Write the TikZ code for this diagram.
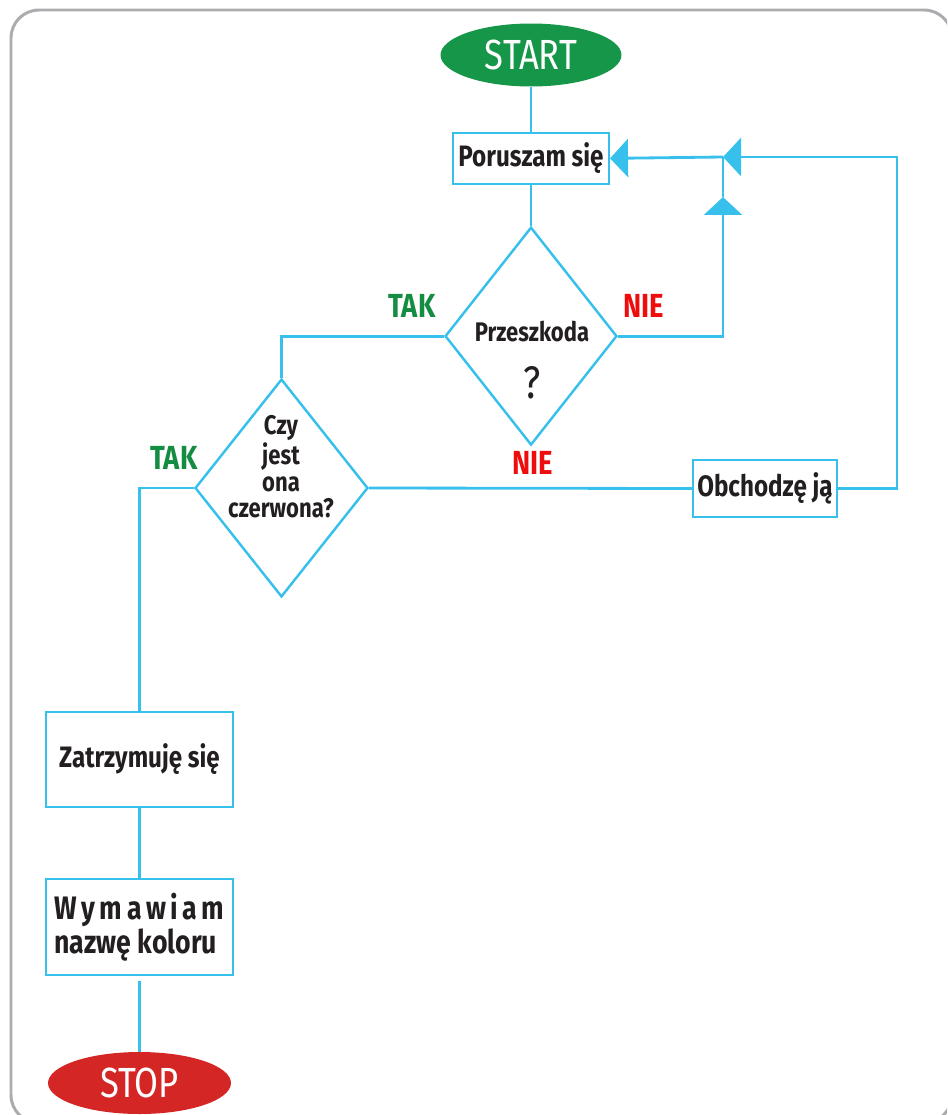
\documentclass[tikz,border=0pt]{standalone}
\usepackage{fontspec}
\setmainfont{Fira Sans}[FakeStretch=0.82]
\usepackage{tikz}
\usetikzlibrary{shapes,arrows.meta,positioning,calc,shapes.geometric}
\definecolor{flowblue}{RGB}{56,192,236}
\definecolor{startgreen}{RGB}{22,150,72}
\definecolor{stopred}{RGB}{213,38,38}
\definecolor{takgreen}{RGB}{20,140,65}
\definecolor{niered}{RGB}{238,12,12}
\definecolor{framegray}{RGB}{172,172,176}
\definecolor{inkblack}{RGB}{35,31,32}
\newcommand{\boxfont}{\bfseries\fontsize{16.8}{18}\selectfont}
\newcommand{\askfont}{\bfseries\fontsize{15.3}{15.3}\selectfont}
\newcommand{\termfont}{\fontsize{24}{26}\selectfont}
\newcommand{\labelfont}{\bfseries\fontsize{19}{21}\selectfont}
\newcommand{\markfont}{\fontsize{26}{28}\selectfont}
\newcommand{\namefont}{\bfseries\fontsize{18.5}{17.5}\selectfont}
\newcommand{\tightwords}{\spaceskip=0.14em plus 0.05em\relax}

\begin{document}
\begin{tikzpicture}[x=0.02cm, y=-0.02cm,
  box/.style={
    rectangle, draw=flowblue, fill=white, line width=1.2pt,
    minimum width=3.12cm, minimum height=1.02cm, inner sep=0pt,
    font=\boxfont, text=inkblack, align=center},
  decision/.style={
    diamond, draw=flowblue, fill=white, line width=1.4pt,
    minimum width=3.44cm, minimum height=4.36cm, inner sep=0pt},
  term/.style={
    ellipse, minimum width=3.62cm, minimum height=1.26cm,
    inner sep=0pt, text=white, font=\termfont},
  qtext/.style={font=\askfont, text=inkblack, align=center, inner sep=0pt},
  yes/.style={font=\labelfont, text=takgreen},
  no/.style={font=\labelfont, text=niered},
  line/.style={draw=flowblue, line width=1.6pt},
  flow/.style={line, -{Triangle[length=0.36cm, width=0.76cm]}}
]
  \useasboundingbox (0,0) rectangle (947,1115);
  \begin{scope}
    \clip (0,0) rectangle (947,1115);
    \draw[framegray, line width=1.7pt, rounded corners=0.56cm]
      (11,10) rectangle (952,1123);
  \end{scope}

  % nodes
  \node[term, fill=startgreen](start) at (531,55){START};
  \node[box, below=0.9cm of start](move){Poruszam się};
  \node[decision, below=0.82cm of move](obst){};
  \node[qtext](obstlabel) at (532,332){Przeszkoda};
  \node[qtext, font=\markfont](obstmark) at (532,383){?};
  \node[decision, minimum width=3.46cm](check) at (281.5,488){};
  \node[qtext](checklabel) at (281,467){Czy\\jest\\ona\\czerwona?};
  \node[box, minimum width=2.88cm, minimum height=1.14cm](detour) at (765,488.5){Obchodzę ją};
  \node[box, minimum width=3.74cm, minimum height=1.9cm](halt) at (139.5,759.5){Zatrzymuję się};
  \node[box, minimum width=3.74cm, minimum height=1.92cm, font=\namefont, align=left]
        (name) at (139.5,927){{\tightwords W y m a w i a m}\\nazwę koloru};
  \node[term, fill=stopred, minimum width=3.66cm, minimum height=1.24cm](stop) at (139.5,1083){STOP};

  % labels
  \node[yes](obstyes) at (412,306){TAK};
  \node[no](obstno) at (644,306){NIE};
  \node[yes](checkyes) at (174,458){TAK};
  \node[no](checkno) at (533,463){NIE};

  % helper points
  \coordinate (join) at (723,157);
  \coordinate (uptip) at (723,197);
  \coordinate (loop) at (897,157);

  % connectors
  \draw[line](start)--(start |- move.north);
  \draw[line](move)--(obst);
  \draw[line](obst.west) -| (check.north);
  \draw[flow](obst.east) -| (uptip);
  \draw[line](uptip)--(join);
  \draw[line](check.east)--(detour.west);
  \draw[flow](detour.east) -| (loop) -- (join);
  \draw[flow](join)--(move.east);
  \draw[line](check.west) -| (halt.north);
  \draw[line](halt)--(name);
  \draw[line, shorten <=0.1cm](name)--(stop);
\end{tikzpicture}
\end{document}
